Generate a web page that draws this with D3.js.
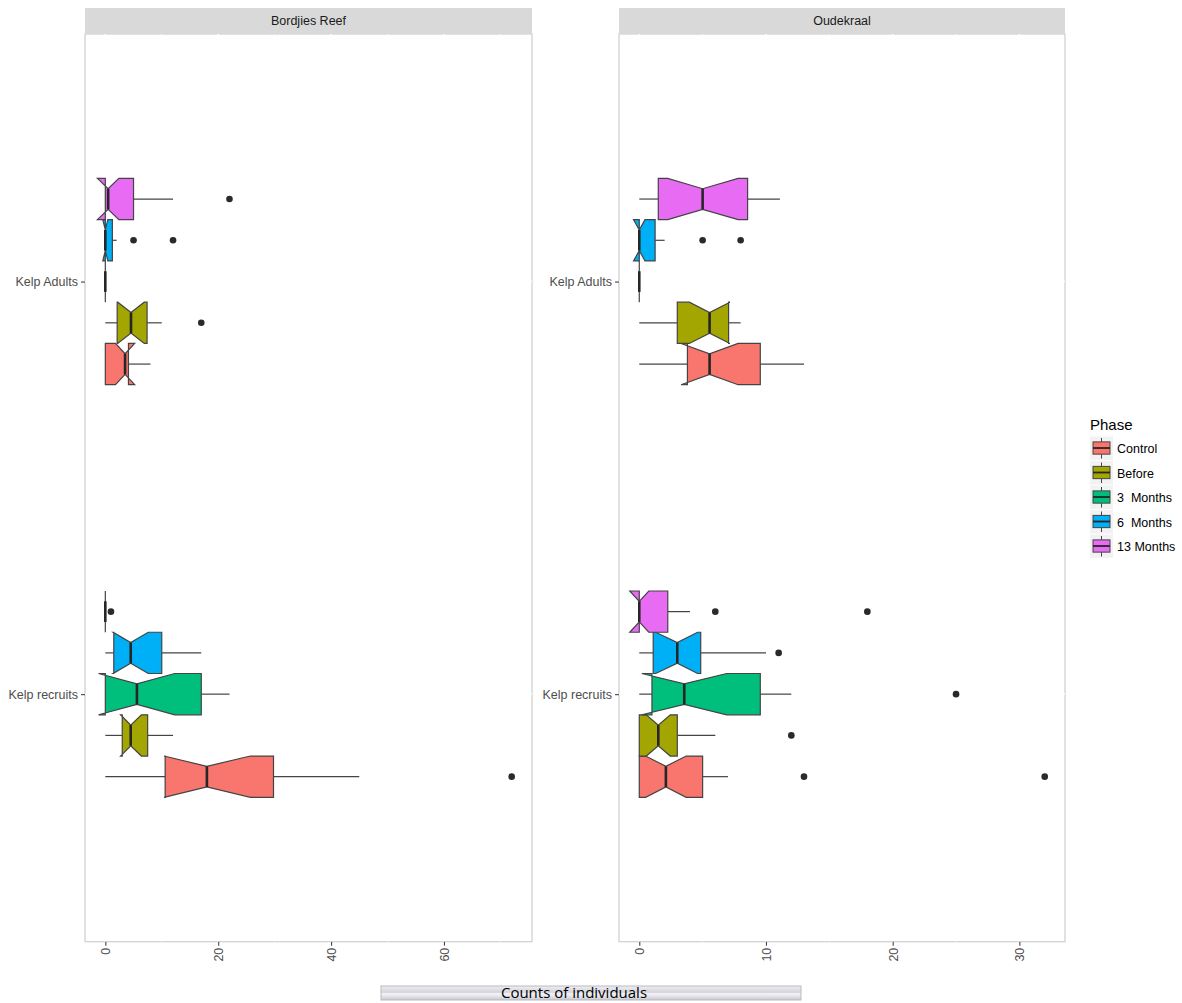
<!DOCTYPE html>
<html><head><meta charset="utf-8">
<script src="https://cdn.jsdelivr.net/npm/d3@7"></script>
<style>body{margin:0;background:#fff}</style>
</head><body><svg id="chart" width="1182" height="1003"></svg>
<script>
// ---------- data ----------
const sites = ["Bordjies Reef", "Oudekraal"];
const groups = ["Kelp recruits", "Kelp Adults"];
const phases = ["Control", "Before", "3  Months", "6  Months", "13 Months"];
const phaseColors = ["#F8766D", "#A3A500", "#00BF7D", "#00B0F6", "#E76BF3"];
// each row (phase order): [whiskerLow, q1, notchLow, median, notchHigh, q3, whiskerHigh]
const bordjiesAdults = [
  [0, 0, 1.8, 3.5, 5.2, 4.1, 8],
  [0, 2.1, 2.2, 4.55, 6.9, 7.4, 10],
  [0, 0, 0, 0, 0, 0, 0],
  [0, 0, -0.45, 0, 0.45, 1.25, 2],
  [0, 0, -1.4, 0.5, 2.4, 5, 12]
];
const bordjiesAdultsOutliers = [[], [17], [], [5, 12], [22]];
const bordjiesRecruits = [
  [0, 10.6, 10.4, 18, 25.7, 29.8, 45],
  [0, 3, 2.7, 4.5, 6.4, 7.5, 12],
  [0, 0, -1.2, 5.6, 12.3, 17, 22],
  [0, 1.5, 1.4, 4.5, 7.6, 10, 17],
  [0, 0, 0, 0, 0, 0, 0]
];
const bordjiesRecruitsOutliers = [[72], [], [], [], [1]];
const oudekraalAdults = [
  [0, 3.8, 3.3, 5.55, 7.8, 9.55, 13],
  [0, 3, 3.95, 5.55, 7.15, 7.05, 8],
  [0, 0, 0, 0, 0, 0, 0],
  [0, 0, -0.45, 0, 0.45, 1.25, 2],
  [0, 1.5, 2.25, 5, 7.8, 8.55, 11.1]
];
const oudekraalAdultsOutliers = [[], [], [], [5, 8], []];
const oudekraalRecruits = [
  [0, 0, 0.5, 2.1, 3.7, 5, 7],
  [0, 0, 0.55, 1.5, 2.45, 3, 6],
  [0, 1, 0.2, 3.55, 6.9, 9.55, 12],
  [0, 1.1, 1.3, 3, 4.6, 4.85, 10],
  [0, 0, -0.75, 0, 0.75, 2.25, 4]
];
const oudekraalRecruitsOutliers = [[13, 32], [12], [25], [11], [6, 18]];
const xTicksBordjies = [0, 20, 40, 60];
const xTicksOudekraal = [0, 10, 20, 30];
const xTitle = "Counts of individuals";
const legendTitle = "Phase";

// ---------- layout ----------
const svg = d3.select("#chart");
const panelTop = 34, panelBottom = 941.7, stripTop = 8;
const panelX = [[85, 532], [619, 1065]];
const panelData = [
  {stats: {"Kelp recruits": bordjiesRecruits, "Kelp Adults": bordjiesAdults},
   outl: {"Kelp recruits": bordjiesRecruitsOutliers, "Kelp Adults": bordjiesAdultsOutliers},
   ticks: xTicksBordjies},
  {stats: {"Kelp recruits": oudekraalRecruits, "Kelp Adults": oudekraalAdults},
   outl: {"Kelp recruits": oudekraalRecruitsOutliers, "Kelp Adults": oudekraalAdultsOutliers},
   ticks: xTicksOudekraal}
];
const textCol = "#4d4d4d", lineCol = "#444444";
const font = "Liberation Sans, Arial, sans-serif";

const y = d3.scalePoint().domain(groups).range([panelBottom, panelTop]).padding(0.6);
const step = y.step();

sites.forEach((site, si) => {
  const [x0, x1] = panelX[si];
  const pd = panelData[si];
  let vals = [];
  groups.forEach(g => {
    pd.stats[g].forEach(r => { vals.push(r[0], r[6]); });
    pd.outl[g].forEach(o => vals.push(...o));
  });
  const lo = d3.min(vals), hi = d3.max(vals), pad = (hi - lo) * 0.05;
  const x = d3.scaleLinear().domain([lo - pad, hi + pad]).range([x0, x1]);

  const g = svg.append("g");
  g.append("rect").attr("x", x0).attr("y", panelTop).attr("width", x1 - x0)
    .attr("height", panelBottom - panelTop).attr("fill", "#fff")
    .attr("stroke", "#d2d2d2").attr("stroke-width", 1.3);
  const t = pd.ticks, dt = t[1] - t[0];
  const minor = [];
  for (let v = t[0] - dt / 2; v <= x.domain()[1]; v += dt) if (v >= x.domain()[0]) minor.push(v);
  g.selectAll(".gmin").data(minor).enter().append("line")
    .attr("x1", d => x(d)).attr("x2", d => x(d)).attr("y1", panelTop).attr("y2", panelBottom)
    .attr("stroke", "#fff").attr("stroke-width", 0.8);
  g.selectAll(".gmaj").data(t).enter().append("line")
    .attr("x1", d => x(d)).attr("x2", d => x(d)).attr("y1", panelTop).attr("y2", panelBottom)
    .attr("stroke", "#fff").attr("stroke-width", 1.5);
  g.selectAll(".gy").data(groups).enter().append("line")
    .attr("x1", x0).attr("x2", x1).attr("y1", d => y(d)).attr("y2", d => y(d))
    .attr("stroke", "#fff").attr("stroke-width", 1.5);

  g.append("rect").attr("x", x0).attr("y", stripTop).attr("width", x1 - x0)
    .attr("height", panelTop - stripTop).attr("fill", "#d9d9d9");
  g.append("text").attr("x", (x0 + x1) / 2).attr("y", (stripTop + panelTop) / 2)
    .attr("dy", "0.35em").attr("text-anchor", "middle")
    .attr("font-family", font).attr("font-size", 12.5).attr("fill", "#1a1a1a").text(site);

  const hh = 0.05 * step, indent = 0.25 * 2 * hh;
  groups.forEach(grp => {
    pd.stats[grp].forEach((r, pi) => {
      const [wl, q1, nl, md, nh, q3, wh] = r;
      const cy = y(grp) - (pi - 2) * 0.1 * step;
      const top = cy - hh, bot = cy + hh;
      const bg = g.append("g");
      bg.append("line").attr("x1", x(wl)).attr("x2", x(q1)).attr("y1", cy).attr("y2", cy)
        .attr("stroke", lineCol).attr("stroke-width", 1.2);
      bg.append("line").attr("x1", x(q3)).attr("x2", x(wh)).attr("y1", cy).attr("y2", cy)
        .attr("stroke", lineCol).attr("stroke-width", 1.2);
      const pts = [[x(q3), top], [x(nh), top], [x(md), top + indent], [x(nl), top], [x(q1), top],
                   [x(q1), bot], [x(nl), bot], [x(md), bot - indent], [x(nh), bot], [x(q3), bot]];
      bg.append("path").attr("d", d3.line()(pts) + "Z")
        .attr("fill", phaseColors[pi]).attr("stroke", lineCol).attr("stroke-width", 1.2)
        .attr("stroke-linejoin", "miter");
      bg.append("line").attr("x1", x(md)).attr("x2", x(md))
        .attr("y1", top + indent).attr("y2", bot - indent)
        .attr("stroke", "#262626").attr("stroke-width", 2.6);
      bg.selectAll("circle").data(pd.outl[grp][pi]).enter().append("circle")
        .attr("cx", d => x(d)).attr("cy", cy).attr("r", 3.3).attr("fill", "#2a2a2a");
    });
  });

  const ax = g.append("g").attr("transform", `translate(0,${panelBottom})`)
    .call(d3.axisBottom(x).tickValues(t).tickSize(4).tickSizeOuter(0));
  ax.select(".domain").remove();
  ax.selectAll("line").attr("stroke", lineCol).attr("stroke-width", 1.1);
  ax.selectAll("text").attr("transform", "rotate(-90)").attr("text-anchor", "end")
    .attr("x", -6).attr("y", 0).attr("dy", "0.35em")
    .attr("font-family", font).attr("font-size", 12.5).attr("fill", textCol);

  const ay = g.append("g").attr("transform", `translate(${x0},0)`)
    .call(d3.axisLeft(y).tickSize(4).tickPadding(3));
  ay.select(".domain").remove();
  ay.selectAll("line").attr("stroke", lineCol).attr("stroke-width", 1.1);
  ay.selectAll("text").attr("font-family", font).attr("font-size", 12.5).attr("fill", textCol);
});

// ---------- legend ----------
const lg = svg.append("g").attr("transform", "translate(1090,0)");
lg.append("text").attr("x", 0).attr("y", 430).attr("font-family", font)
  .attr("font-size", 15).attr("fill", "#000").text(legendTitle);
const keyH = 24.5, keyW = 23, keyTop = 436.5;
phases.forEach((p, i) => {
  const ky = keyTop + i * keyH;
  const k = lg.append("g").attr("transform", `translate(0,${ky})`);
  k.append("rect").attr("width", keyW).attr("height", keyH - 1).attr("fill", "#f2f2f2");
  const cx = keyW / 2, b0 = keyH * 0.22, b1 = keyH * 0.72;
  k.append("line").attr("x1", cx).attr("x2", cx).attr("y1", 1.5).attr("y2", b0).attr("stroke", lineCol);
  k.append("line").attr("x1", cx).attr("x2", cx).attr("y1", b1).attr("y2", keyH - 2.5).attr("stroke", lineCol);
  k.append("rect").attr("x", 3).attr("y", b0).attr("width", keyW - 6).attr("height", b1 - b0)
    .attr("fill", phaseColors[i]).attr("stroke", lineCol).attr("stroke-width", 1);
  k.append("line").attr("x1", 3).attr("x2", keyW - 3).attr("y1", (b0 + b1) / 2).attr("y2", (b0 + b1) / 2)
    .attr("stroke", "#262626").attr("stroke-width", 1.8);
  k.append("text").attr("x", 27).attr("y", keyH / 2).attr("dy", "0.35em")
    .attr("font-family", font).attr("font-size", 12.5).attr("fill", "#000")
    .style("white-space", "pre").text(p);
});

// ---------- bottom title with bar ----------
const defs = svg.append("defs");
const gr = defs.append("linearGradient").attr("id", "barg").attr("x1", 0).attr("x2", 0).attr("y1", 0).attr("y2", 1);
gr.append("stop").attr("offset", "0").attr("stop-color", "#eeeef3");
gr.append("stop").attr("offset", "0.45").attr("stop-color", "#d4d4dc");
gr.append("stop").attr("offset", "0.55").attr("stop-color", "#f4f4f8");
gr.append("stop").attr("offset", "1").attr("stop-color", "#c9c9d2");
svg.append("rect").attr("x", 381).attr("y", 986).attr("width", 420).attr("height", 14)
  .attr("fill", "url(#barg)").attr("stroke", "#b9b9c4").attr("stroke-width", 1);
svg.append("text").attr("x", 574).attr("y", 998).attr("text-anchor", "middle")
  .attr("font-family", "Open Sans, Liberation Sans, sans-serif").attr("font-size", 15)
  .attr("fill", "#000").text(xTitle);
</script></body></html>
